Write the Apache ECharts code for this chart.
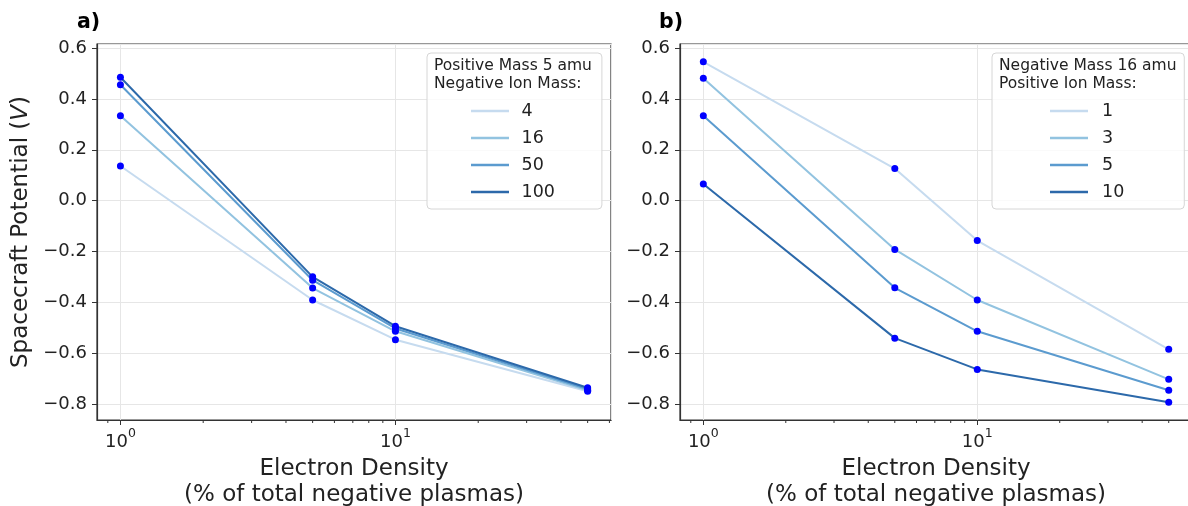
<!DOCTYPE html>
<html>
<head>
<meta charset="utf-8">
<script src="https://cdn.jsdelivr.net/npm/echarts@6/dist/echarts.min.js"></script>
<style>
html, body { margin: 0; padding: 0; background: #fff; }
#chart { width: 1188px; height: 506px; }
</style>
</head>
<body>
<div id="chart"></div>
<script>
// electron density, % of total negative plasmas (log x)
const density = [1, 5, 10, 50];

// panel a) positive mass 5 amu, negative ion mass varies
const negIonMass = ['4', '16', '50', '100'];
const potNeg4   = [0.136, -0.391, -0.547, -0.750];
const potNeg16  = [0.334, -0.344, -0.514, -0.746];
const potNeg50  = [0.456, -0.313, -0.503, -0.741];
const potNeg100 = [0.485, -0.300, -0.494, -0.736];

// panel b) negative mass 16 amu, positive ion mass varies
const posIonMass = ['1', '3', '5', '10'];
const potPos1  = [0.546, 0.126, -0.157, -0.585];
const potPos3  = [0.481, -0.192, -0.391, -0.703];
const potPos5  = [0.334, -0.343, -0.514, -0.746];
const potPos10 = [0.065, -0.541, -0.664, -0.793];

// axis ranges (matplotlib style 5% margins) and minor log ticks
const xMin = 0.822, xMax = 60.8;
const yMin = -0.863, yMax = 0.616;
const minorTicks = [0.9, 2, 3, 4, 5, 6, 7, 8, 9, 20, 30, 40, 50, 60];

const blues = ['#c6dbef', '#92c3e0', '#5b9bcf', '#2c69aa'];
const font = 'DejaVu Sans';
const ink = '#222';

const panelA = [potNeg4, potNeg16, potNeg50, potNeg100];
const panelB = [potPos1, potPos3, potPos5, potPos10];

function xAxisFor(i) {
  return {
    type: 'log', logBase: 10, gridIndex: i, min: xMin, max: xMax,
    axisLine: { onZero: false, lineStyle: { color: '#333', width: 1.2 } },
    axisTick: { length: 5, lineStyle: { color: '#333', width: 1 } },
    axisLabel: {
      color: ink, margin: 7, fontFamily: font,
      showMinLabel: false, showMaxLabel: false,
      formatter: v => {
        const e = Math.log10(v);
        if (Math.abs(e - Math.round(e)) > 1e-6) return '';
        return '{b|10}{s|' + Math.round(e) + '}';
      },
      rich: {
        b: { fontSize: 18, lineHeight: 24, verticalAlign: 'bottom', color: ink, fontFamily: font },
        s: { fontSize: 12.5, lineHeight: 14, verticalAlign: 'top', color: ink, fontFamily: font }
      }
    },
    splitLine: { show: true, lineStyle: { color: '#e6e6e6', width: 1 } },
    name: 'Electron Density\n(% of total negative plasmas)',
    nameLocation: 'middle', nameGap: 31,
    nameTextStyle: { fontSize: 23, lineHeight: 26, color: ink, fontFamily: font }
  };
}

function yAxisFor(i) {
  const ax = {
    type: 'value', gridIndex: i, min: yMin, max: yMax, splitNumber: 7,
    axisLine: { show: true, onZero: false, lineStyle: { color: '#333', width: 1.2 } },
    axisTick: { show: true, length: 5, lineStyle: { color: '#333', width: 1 } },
    axisLabel: {
      fontSize: 18, color: ink, margin: 10, fontFamily: font,
      showMinLabel: false, showMaxLabel: false,
      formatter: v => {
        if (Math.abs(v * 5 - Math.round(v * 5)) > 1e-6) return '';
        return (Math.round(v * 10) / 10).toFixed(1).replace('-', '\u2212');
      }
    },
    splitLine: { show: true, lineStyle: { color: '#e6e6e6', width: 1 } }
  };
  if (i === 0) {
    ax.name = 'Spacecraft Potential ({it|V})';
    ax.nameLocation = 'middle';
    ax.nameGap = 64;
    ax.nameTextStyle = {
      fontSize: 23, color: ink, fontFamily: font,
      rich: { it: { fontSize: 23, fontStyle: 'italic', color: ink, fontFamily: font } }
    };
  }
  return ax;
}

function panelSeries(i, names, rows) {
  const out = rows.map((vals, k) => ({
    type: 'line', name: names[k], xAxisIndex: i, yAxisIndex: i,
    data: density.map((x, j) => [x, vals[j]]),
    symbol: 'none', showSymbol: false,
    lineStyle: { width: 2, color: blues[k] },
    itemStyle: { color: blues[k] },
    z: 2
  }));
  const dots = [];
  rows.forEach(vals => density.forEach((x, j) => dots.push([x, vals[j]])));
  out.push({
    type: 'scatter', name: 'pts' + i, xAxisIndex: i, yAxisIndex: i,
    data: dots, symbolSize: 7, itemStyle: { color: '#0000ff', opacity: 1 },
    silent: true, z: 3
  });
  return out;
}

function legendFor(names, left, pad, textPad) {
  return {
    data: names, orient: 'vertical', left: left, top: 53,
    padding: pad, itemWidth: 38, itemHeight: 2.5, itemGap: 7, icon: 'rect',
    backgroundColor: 'rgba(255,255,255,0.8)', borderColor: '#d6d6d6',
    borderWidth: 1, borderRadius: 4, selectedMode: false, z: 4,
    textStyle: { fontSize: 17.5, lineHeight: 20, color: ink, fontFamily: font, padding: [0, 0, 0, textPad] }
  };
}

function gridAt(left, width) {
  return {
    left: left, top: 44, width: width, height: 376,
    outerBoundsMode: 'none', containLabel: false,
    show: true, borderColor: '#333', borderWidth: 1.2, backgroundColor: 'transparent'
  };
}

const chart = echarts.init(document.getElementById('chart'), null, { renderer: 'canvas' });

chart.setOption({
  animation: false,
  backgroundColor: '#fff',
  textStyle: { fontFamily: font },
  title: [
    { text: 'a)', left: 77, top: 11, padding: 0, textStyle: { fontSize: 20.5, lineHeight: 24, fontWeight: 'bold', color: '#000', fontFamily: font } },
    { text: 'b)', left: 659, top: 11, padding: 0, textStyle: { fontSize: 20.5, lineHeight: 24, fontWeight: 'bold', color: '#000', fontFamily: font } },
    { text: 'Positive Mass 5 amu\nNegative Ion Mass:', left: 434, top: 57, padding: 0, z: 10,
      textStyle: { fontSize: 15.5, lineHeight: 18, fontWeight: 'normal', color: ink, fontFamily: font } },
    { text: 'Negative Mass 16 amu\nPositive Ion Mass:', left: 999, top: 57, padding: 0, z: 10,
      textStyle: { fontSize: 15.5, lineHeight: 18, fontWeight: 'normal', color: ink, fontFamily: font } }
  ],
  legend: [
    legendFor(negIonMass, 427, [48, 47, 7, 44], 7.5),
    legendFor(posIonMass, 992, [48, 60, 7, 58], 9)
  ],
  grid: [gridAt(97, 514), gridAt(680, 512)],
  xAxis: [xAxisFor(0), xAxisFor(1)],
  yAxis: [yAxisFor(0), yAxisFor(1)],
  series: panelSeries(0, negIonMass, panelA).concat(panelSeries(1, posIonMass, panelB))
});

// minor log ticks, placed through the axis scales
const ticks = [];
[0, 1].forEach(i => {
  const yb = chart.convertToPixel({ yAxisIndex: i }, yMin);
  minorTicks.forEach(v => {
    const x = chart.convertToPixel({ xAxisIndex: i }, v);
    ticks.push({
      type: 'line', silent: true, z: 5,
      shape: { x1: x, y1: yb, x2: x, y2: yb + 3 },
      style: { stroke: '#333', lineWidth: 1 }
    });
  });
});
chart.setOption({ graphic: ticks });
</script>
</body>
</html>
